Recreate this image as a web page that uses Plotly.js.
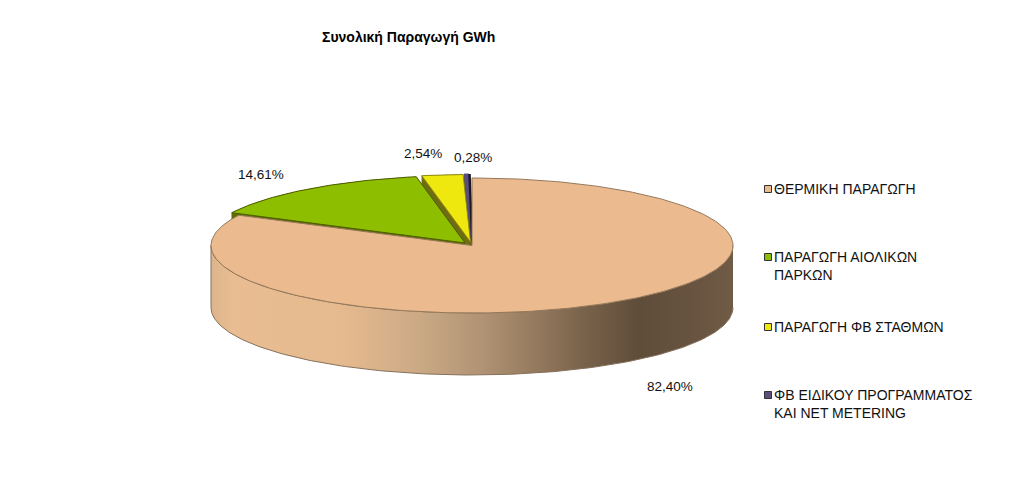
<!DOCTYPE html>
<html><head><meta charset="utf-8">
<script src="https://cdn.plot.ly/plotly-3.0.1.min.js"></script>
<style>html,body{margin:0;padding:0;background:#fff}</style>
</head><body><div id="chart" style="width:1035px;height:484px"></div>
<script>
const categories = ['ΘΕΡΜΙΚΗ ΠΑΡΑΓΩΓΗ','ΠΑΡΑΓΩΓΗ ΑΙΟΛΙΚΩΝ ΠΑΡΚΩΝ','ΠΑΡΑΓΩΓΗ ΦΒ ΣΤΑΘΜΩΝ','ΦΒ ΕΙΔΙΚΟΥ ΠΡΟΓΡΑΜΜΑΤΟΣ ΚΑΙ NET METERING'];
const legendLabels = ['ΘΕΡΜΙΚΗ ΠΑΡΑΓΩΓΗ','ΠΑΡΑΓΩΓΗ ΑΙΟΛΙΚΩΝ<br>ΠΑΡΚΩΝ','ΠΑΡΑΓΩΓΗ ΦΒ ΣΤΑΘΜΩΝ','ΦΒ ΕΙΔΙΚΟΥ ΠΡΟΓΡΑΜΜΑΤΟΣ<br>ΚΑΙ NET METERING'];
const shares = [82.40, 14.61, 2.54, 0.28];
const shareLabels = ['82,40%','14,61%','2,54%','0,28%'];
const colors = ['#EBBB8F','#8DBF00','#EEE80F','#5B4F7C'];
const faceColors = ['#8a7054','#5f6c00','#6f6c12','#2a2438'];
const chartTitle = 'Συνολική Παραγωγή GWh';

// pie geometry on pixel-like axes
const W=1035,H=484,cx=472,cy=245.5,rx=261,ry=67.5,depth=62;
const explode=[[0,0],[-7,-2.5],[-1.5,-3.5],[-0.5,-4]];
const labelPos=[[670,386],[261,175],[423,153],[473,157]];
const legendY=[189,257,327,395];

function pt(deg,off,dz){const t=deg*Math.PI/180;return [cx+off[0]+rx*Math.sin(t),cy+off[1]+dz-ry*Math.cos(t)];}
function arc(a,b,off,dz){const n=Math.max(2,Math.ceil(Math.abs(b-a)));const r=[];for(let i=0;i<=n;i++)r.push(pt(a+(b-a)*i/n,off,dz));return r;}
function poly(points,color,line,name){
  return {type:'scatter',mode:line?'lines':'none',x:points.map(p=>p[0]),y:points.map(p=>p[1]),fill:'toself',fillcolor:color,
    line:line?{color:line,width:1}:{width:0},hoverinfo:'skip',showlegend:false,name:name||''};
}
let startAngle=0;const ranges=shares.map(s=>{const r=[startAngle,startAngle+s*3.6];startAngle+=s*3.6;return r;});
function sliceTop(i,line){const off=explode[i];const [a,b]=ranges[i];const c=[cx+off[0],cy+off[1]];
  return poly([c,...arc(a,b,off,0),c],colors[i],line,categories[i]);}
function faces(i){const off=explode[i];const [a,b]=ranges[i];const c=[cx+off[0],cy+off[1]];const cd=[c[0],c[1]+depth];
  const out=[];
  out.push(poly([c,pt(a,off,0),pt(a,off,depth),cd,c],faceColors[i]));
  out.push(poly([c,pt(b,off,0),pt(b,off,depth),cd,c],faceColors[i]));
  out.push(poly([...arc(a,b,off,0),...arc(b,a,off,depth)],faceColors[i]));
  return out;}

const traces=[];
traces.push(...faces(3));
traces.push(...faces(2));
traces.push(...faces(1));
traces.push(sliceTop(1,'#4f5c00'));
traces.push(sliceTop(3,colors[3]));
traces.push(sliceTop(2,'#8f8c12'));
// dark closing edge of the smallest slice
{const off=explode[3];const e=pt(ranges[3][1],off,0);
 traces.push({type:'scatter',mode:'lines',x:[cx+off[0]+0.8,e[0]+0.8],y:[cy+off[1],e[1]],line:{color:'#1c1828',width:2.5},hoverinfo:'skip',showlegend:false});}
// thermal side with horizontal light gradient
const side=poly([...arc(90,270,[0,0],0),...arc(270,90,[0,0],depth)],colors[0],'#85715c','side');
delete side.fillcolor;
side.fillgradient={type:'horizontal',start:cx-rx,stop:cx+rx,colorscale:[
 [0,'#dcb48c'],[0.04,'#e9bc91'],[0.25,'#e6ba8f'],[0.4,'#cba985'],[0.52,'#b09374'],[0.62,'#957a5e'],[0.72,'#78614a'],[0.82,'#5f4c39'],[0.92,'#675340'],[1,'#705b45']]};
traces.push(side);
traces.push(sliceTop(0,'#96795b'));

const ann=[{text:'<b>'+chartTitle+'</b>',x:408.5/W,y:1-37/H,font:{size:14,color:'#000'}}];
shareLabels.forEach((t,i)=>ann.push({text:t,x:labelPos[i][0]/W,y:1-labelPos[i][1]/H,font:{size:13.5,color:'#111'}}));
legendLabels.forEach((t,i)=>ann.push({text:t,x:773/W,y:1-(legendY[i]-9)/H,xanchor:'left',yanchor:'top',align:'left',font:{size:14,color:'#111'}}));
ann.forEach(a=>{a.xref='paper';a.yref='paper';a.showarrow=false;a.borderpad=0;if(!a.xanchor)a.xanchor='center';if(!a.yanchor)a.yanchor='middle';});
const shapes=legendY.map((y,i)=>({type:'rect',xref:'x',yref:'y',x0:764.5,x1:771.5,y0:y-3.5,y1:y+3.5,fillcolor:colors[i],line:{color:'#333',width:1}}));

Plotly.newPlot('chart',traces,{
  width:W,height:H,margin:{l:0,r:0,t:0,b:0},paper_bgcolor:'#fff',plot_bgcolor:'#fff',showlegend:false,hovermode:false,
  font:{family:'"Liberation Sans",Arial,sans-serif'},
  xaxis:{range:[0,W],visible:false,fixedrange:true},
  yaxis:{range:[H,0],visible:false,fixedrange:true},
  annotations:ann,shapes:shapes
},{displayModeBar:false,staticPlot:true});
</script></body></html>
